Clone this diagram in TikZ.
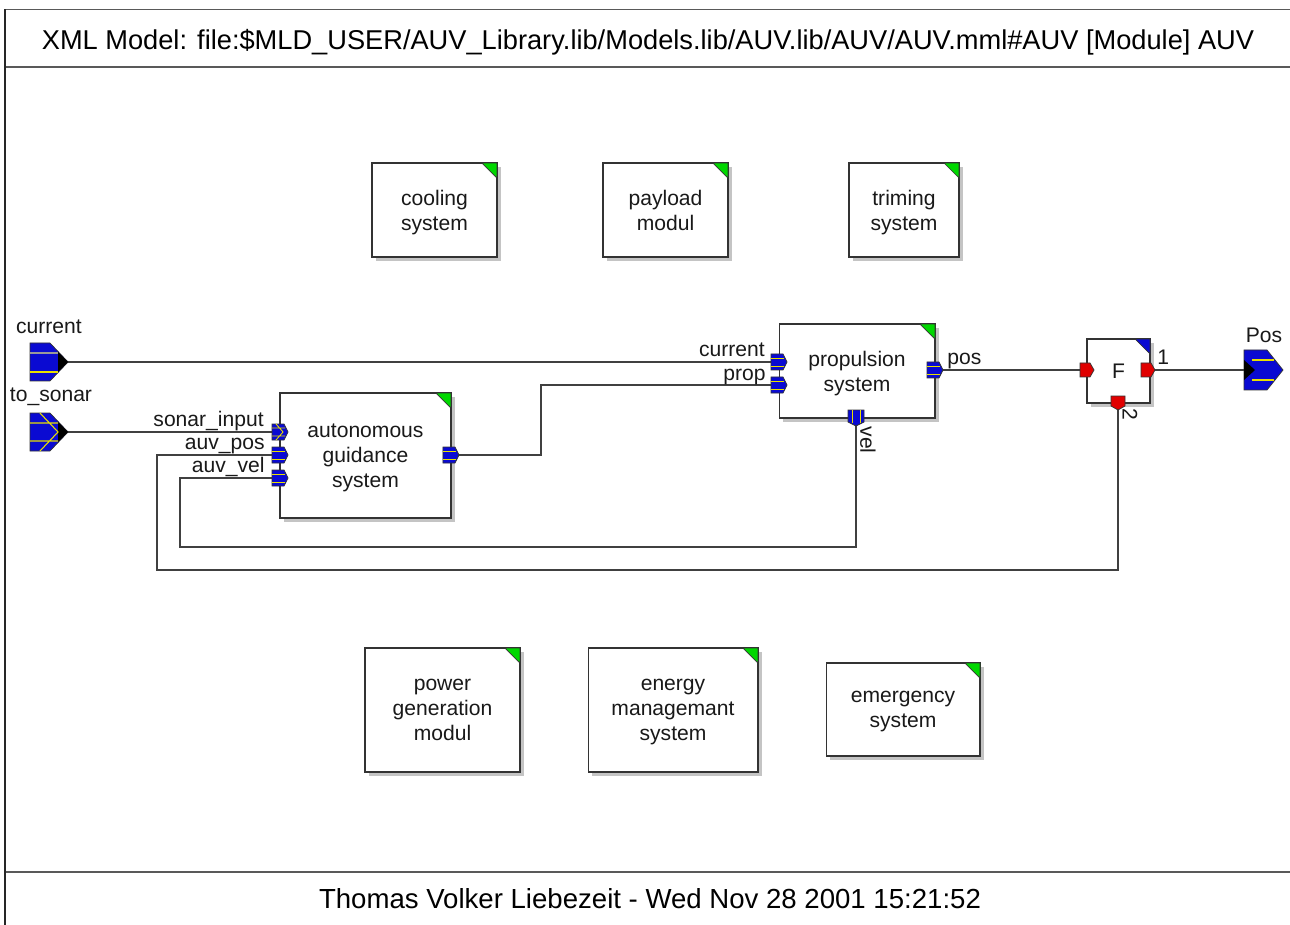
\documentclass[tikz,border=0pt]{standalone}
\usepackage{fontspec}
\setmainfont{Liberation Sans}
\usetikzlibrary{calc, shadows}
\definecolor{mPort}{HTML}{0A0AD2}
\definecolor{mRed}{HTML}{E00000}
\definecolor{mCorner}{HTML}{00D800}
\definecolor{mWire}{HTML}{404040}
\definecolor{mShadow}{HTML}{C4C4C4}
\definecolor{mStripe}{HTML}{E8E000}
\newcommand{\blkfont}{\fontsize{12}{14.2}\selectfont}
\newcommand{\hdrfont}{\fontsize{15.5}{18}\selectfont}
\newcommand{\stampfont}{\fontsize{15.7}{18}\selectfont}
\tikzset{
  blk/.style={draw=black!80, fill=white, line width=0.6pt, inner sep=0pt,
              outer sep=0pt, align=center, font=\blkfont, text=black!90,
              text depth=0pt,
              drop shadow={shadow xshift=0.08cm, shadow yshift=-0.08cm,
                           fill=mShadow, opacity=1}},
  wire/.style={draw=mWire, line width=0.6pt},
  plabel/.style={font=\blkfont, inner sep=0pt, text=black!90},
  frame/.style={draw=black!65, line width=0.7pt},
  % small block ports, centred on the block edge
  inport/.pic={
    \filldraw[fill=mPort, draw=black!80, line width=0.4pt]
      (-8,-8) -- (4,-8) -- (8,0) -- (4,8) -- (-8,8) -- cycle;
    \draw[mStripe, line width=0.5pt] (-8,-4) -- (5,-4) (-8,4) -- (5,4);
  },
  chevport/.pic={
    \filldraw[fill=mPort, draw=black!80, line width=0.4pt]
      (-8,-8) -- (4,-8) -- (8,0) -- (4,8) -- (-8,8) -- cycle;
    \draw[mStripe, line width=0.5pt] (-8,-4) -- (5,-4) (-8,4) -- (5,4)
      (-4,-8) -- (3,0) -- (-4,8);
  },
  redport/.pic={
    \filldraw[fill=mRed, draw=black!80, line width=0.4pt]
      (-7,-7) -- (3,-7) -- (7,0) -- (3,7) -- (-7,7) -- cycle;
  },
  % terminals of the module, anchored at the wire end
  termin/.pic={
    \filldraw[fill=mPort, draw=black!80, line width=0.4pt]
      (-38,-19) -- (-18,-19) -- (0,0) -- (-18,19) -- (-38,19) -- cycle;
    \fill[black] (-10,-10) -- (0,0) -- (-10,10) -- cycle;
    \draw[black!40, line width=0.6pt] (-38,-9) -- (-10,-9);
    \draw[mStripe, line width=0.6pt] (-38,10) -- (-10,10);
  },
  termchev/.pic={
    \filldraw[fill=mPort, draw=black!80, line width=0.4pt]
      (-38,-19) -- (-18,-19) -- (0,0) -- (-18,19) -- (-38,19) -- cycle;
    \fill[black] (-10,-10) -- (0,0) -- (-10,10) -- cycle;
    \draw[mStripe, line width=0.6pt] (-38,-9) -- (-10,-9) (-38,9) -- (-10,9)
      (-28,-19) -- (-10,0) -- (-28,19);
  },
  termout/.pic={
    \filldraw[fill=mPort, draw=black!80, line width=0.4pt]
      (0,-20) -- (23,-20) -- (39,0) -- (23,20) -- (0,20) -- cycle;
    \fill[black] (0,-10) -- (11,0) -- (0,10) -- cycle;
    \draw[mStripe, line width=0.6pt] (8,-10) -- (30,-10) (8,10) -- (30,10);
  },
}
\newcommand{\corner}[2]{%
  \filldraw[fill=#2, draw=black!80, line width=0.4pt]
    ($(#1.north east)+(-15,0)$) -- (#1.north east) -- ($(#1.north east)+(0,15)$) -- cycle;}

\begin{document}
\begin{tikzpicture}[x=0.02cm, y=-0.02cm]
  \useasboundingbox (0,0) rectangle (1290,925);

  % page frame
  \draw[frame] (5,9.5) -- (1290,9.5);
  \draw[frame] (5,67) -- (1290,67);
  \draw[frame] (5,872) -- (1290,872);
  \draw[draw=black!85, line width=0.8pt] (5,9.5) -- (5,925);
  \node[font=\hdrfont, inner sep=0pt] (title) at (648,42)
    {XML Model: file:\$MLD\_USER/AUV\_Library.lib/Models.lib/AUV.lib/AUV/AUV.mml\#AUV [Module] AUV};
  \node[font=\stampfont, inner sep=0pt] (stamp) at (650,899)
    {Thomas Volker Liebezeit - Wed Nov 28 2001 15:21:52};

  % blocks
  \node[blk, minimum width=2.5cm, minimum height=1.88cm] (cool) at (434.5,210) {cooling\\system};
  \node[blk, minimum width=2.5cm, minimum height=1.88cm] (pay) at (665.5,210) {payload\\modul};
  \node[blk, minimum width=2.2cm, minimum height=1.88cm] (trim) at (904,210) {triming\\system};
  \node[blk, minimum width=3.12cm, minimum height=1.88cm] (prop) at (857,371) {propulsion\\system};
  \node[blk, minimum width=3.42cm, minimum height=2.5cm] (guid) at (365.5,455.5) {autonomous\\guidance\\system};
  \node[blk, minimum width=1.26cm, minimum height=1.28cm] (F) at (1118.5,371) {F};
  \node[blk, minimum width=3.1cm, minimum height=2.48cm] (power) at (442.5,710) {power\\generation\\modul};
  \node[blk, minimum width=3.4cm, minimum height=2.48cm] (energy) at (673,710) {energy\\managemant\\system};
  \node[blk, minimum width=3.08cm, minimum height=1.86cm] (emerg) at (903,709.5) {emergency\\system};
  \foreach \b in {cool, pay, trim, prop, guid, power, energy, emerg}
    \corner{\b}{mCorner};
  \corner{F}{mPort}

  % port positions
  \coordinate (cur)   at (68,362);
  \coordinate (sonar) at (68,432);
  \coordinate (pos)   at (1244,370);
  \coordinate (g-son) at (guid.west |- 0,432);
  \coordinate (g-pos) at (guid.west |- 0,455);
  \coordinate (g-vel) at (guid.west |- 0,478);
  \coordinate (g-out) at (guid.east |- 0,455);
  \coordinate (p-cur) at (prop.west |- 0,362);
  \coordinate (p-prp) at (prop.west |- 0,385);
  \coordinate (p-pos) at (prop.east |- 0,370);
  \coordinate (p-vel) at (856,418);
  \coordinate (f-in)  at (F.west |- 0,370);
  \coordinate (f-out) at (1148,370);
  \coordinate (f-in2) at (1118,403);

  % connections
  \draw[wire] (cur) -- (p-cur);
  \draw[wire] (sonar) -- (g-son);
  \draw[wire] (g-out) -- ++(90,0) |- (p-prp);
  \draw[wire] (p-pos) -- (f-in);
  \draw[wire] (f-out) -- (pos);
  \draw[wire] (p-vel) |- (180,547) |- (g-vel);
  \draw[wire] (f-in2) |- (157,570) |- (g-pos);

  % ports
  \pic at (cur) {termin};
  \pic at (sonar) {termchev};
  \pic at (pos) {termout};
  \pic at (g-son) {chevport};
  \pic at (g-pos) {inport};
  \pic at (g-vel) {inport};
  \pic at (g-out) {inport};
  \pic at (p-cur) {inport};
  \pic at (p-prp) {inport};
  \pic at (p-pos) {inport};
  \pic[rotate=-90] at (p-vel) {inport};
  \pic at (f-in) {redport};
  \pic at (f-out) {redport};
  \pic[rotate=-90] at (f-in2) {redport};

  % port labels
  \node[plabel, anchor=base east] (l-son) at (264,426) {sonar\_input};
  \node[plabel, anchor=base east] (l-gpos) at (265,449) {auv\_pos};
  \node[plabel, anchor=base east] (l-gvel) at (265,472) {auv\_vel};
  \node[plabel, anchor=base east] (l-pcur) at (765,357) {current};
  \node[plabel, anchor=base east] (l-pprp) at (766,380) {prop};
  \node[plabel, anchor=base west] (l-ppos) at (947,365) {pos};
  \node[plabel, rotate=-90] (l-vel) at (868,440) {vel};
  \node[plabel, anchor=base west] (l-f1) at (1157,365) {1};
  \node[plabel, rotate=-90] (l-f2) at (1130,414) {2};
  \node[plabel] (l-cur) at (49,327) {current};
  \node[plabel] (l-sonar) at (51,397) {to\_sonar};
  \node[plabel] (l-pos) at (1264,335) {Pos};
\end{tikzpicture}
\end{document}
